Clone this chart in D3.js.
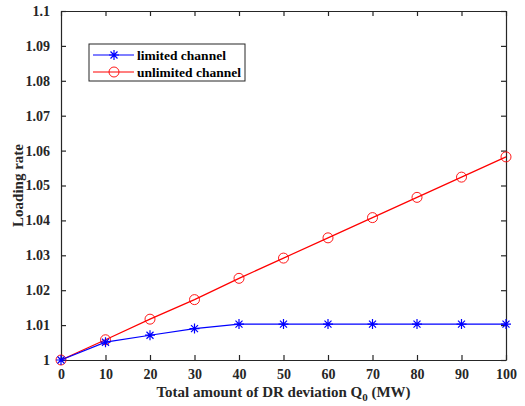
<!DOCTYPE html>
<html>
<head>
<meta charset="utf-8">
<script src="https://cdn.jsdelivr.net/npm/d3@7"></script>
<style>
  body { margin: 0; background: #fff; }
  text { font-family: "Liberation Serif", "Times New Roman", serif; font-weight: bold; }
</style>
</head>
<body>
<div class="chart"></div>
<script>
var w = 525;
var h = 406;
var paddingLeft = 61;
var paddingRight = 19;
var paddingTop = 11;
var paddingBottom = 46;

// data
var deviation = [0, 10, 20, 30, 40, 50, 60, 70, 80, 90, 100];
var limited = [1, 1.0051, 1.0071, 1.0090, 1.0103, 1.0103, 1.0103, 1.0103, 1.0103, 1.0103, 1.0103];
var unlimited = [1, 1.0058, 1.0117, 1.0173, 1.0234, 1.0292, 1.0350, 1.0408, 1.0466, 1.0524, 1.0582];
var seriesNames = ["limited channel", "unlimited channel"];
var xTicks = d3.range(0, 101, 10);
var yTicks = [1, 1.01, 1.02, 1.03, 1.04, 1.05, 1.06, 1.07, 1.08, 1.09, 1.1];

var xScale = d3.scaleLinear()
               .domain([0, 100])
               .range([paddingLeft, w - paddingRight]);
var yScale = d3.scaleLinear()
               .domain([1, 1.1])
               .range([h - paddingBottom, paddingTop]);

var svg = d3.select(".chart").append("svg")
            .attr("width", w)
            .attr("height", h);

var tickLen = 5;
var axisColor = "#262626";

// axes, ticks pointing inward
var xAxis = d3.axisBottom(xScale).tickValues(xTicks).tickSizeInner(-tickLen).tickSizeOuter(0).tickPadding(9);
var yAxis = d3.axisLeft(yScale).tickValues(yTicks).tickSizeInner(-tickLen).tickSizeOuter(0).tickPadding(11)
              .tickFormat(function(d) { return d3.format("")(+d.toFixed(2)); });
var xTop = d3.axisTop(xScale).tickValues(xTicks).tickSizeInner(-tickLen).tickSizeOuter(0).tickFormat("");
var yRight = d3.axisRight(yScale).tickValues(yTicks).tickSizeInner(-tickLen).tickSizeOuter(0).tickFormat("");

function styleAxis(g) {
  g.selectAll("path, line").attr("stroke", axisColor).attr("stroke-width", 1.2);
  g.selectAll("text").attr("fill", axisColor).style("font-size", "14px")
   .style("font-family", "'Liberation Serif', serif").style("font-weight", "bold");
}

svg.append("g").attr("transform", "translate(0," + (h - paddingBottom) + ")").call(xAxis).call(styleAxis);
svg.append("g").attr("transform", "translate(" + paddingLeft + ",0)").call(yAxis).call(styleAxis);
svg.append("g").attr("transform", "translate(0," + paddingTop + ")").call(xTop).call(styleAxis);
svg.append("g").attr("transform", "translate(" + (w - paddingRight) + ",0)").call(yRight).call(styleAxis);

// axis labels
var xLabel = svg.append("text")
   .attr("x", (paddingLeft + w - paddingRight) / 2)
   .attr("y", h - 9)
   .attr("text-anchor", "middle")
   .attr("fill", axisColor)
   .style("font-size", "15px");
xLabel.append("tspan").text("Total amount of DR deviation Q");
xLabel.append("tspan").attr("dy", 4).style("font-size", "11px").text("0");
xLabel.append("tspan").attr("dy", -4).text(" (MW)");

svg.append("text")
   .attr("transform", "translate(23," + ((paddingTop + h - paddingBottom) / 2) + ") rotate(-90)")
   .attr("text-anchor", "middle")
   .attr("fill", axisColor)
   .style("font-size", "15px")
   .text("Loading rate");

// lines
var line = d3.line()
             .x(function(d, i) { return xScale(deviation[i]); })
             .y(function(d) { return yScale(d); });

var plot = svg.append("g");

plot.append("path").datum(unlimited).attr("d", line)
    .attr("fill", "none").attr("stroke", "#ff0000").attr("stroke-width", 1.2);
plot.selectAll("circle.unl").data(unlimited).enter().append("circle")
    .attr("class", "unl")
    .attr("cx", function(d, i) { return xScale(deviation[i]); })
    .attr("cy", function(d) { return yScale(d); })
    .attr("r", 5)
    .attr("fill", "none").attr("stroke", "#ff0000").attr("stroke-width", 0.9);

plot.append("path").datum(limited).attr("d", line)
    .attr("fill", "none").attr("stroke", "#0000ff").attr("stroke-width", 1.2);

var star = function(size) {
  var s = size;
  var d = "M" + (-s) + ",0H" + s + "M0," + (-s) + "V" + s +
          "M" + (-s * 0.7) + "," + (-s * 0.7) + "L" + (s * 0.7) + "," + (s * 0.7) +
          "M" + (-s * 0.7) + "," + (s * 0.7) + "L" + (s * 0.7) + "," + (-s * 0.7);
  return d;
};

plot.selectAll("path.lim").data(limited).enter().append("path")
    .attr("class", "lim")
    .attr("transform", function(d, i) { return "translate(" + xScale(deviation[i]) + "," + yScale(d) + ")"; })
    .attr("d", star(5))
    .attr("fill", "none").attr("stroke", "#0000ff").attr("stroke-width", 1.2);

// legend
var legend = svg.append("g").attr("transform", "translate(89,44)");
legend.append("rect")
      .attr("width", 156).attr("height", 37)
      .attr("fill", "#fff").attr("stroke", axisColor).attr("stroke-width", 1);

var colors = ["#0000ff", "#ff0000"];
seriesNames.forEach(function(name, i) {
  var yy = 11 + i * 17;
  var g = legend.append("g");
  g.append("line").attr("x1", 4).attr("x2", 45).attr("y1", yy).attr("y2", yy)
   .attr("stroke", colors[i]).attr("stroke-width", 1.2);
  if (i == 0) {
    g.append("path").attr("transform", "translate(25," + yy + ")")
     .attr("d", star(5)).attr("fill", "none").attr("stroke", colors[i]).attr("stroke-width", 1.2);
  } else {
    g.append("circle").attr("cx", 25).attr("cy", yy).attr("r", 5)
     .attr("fill", "none").attr("stroke", colors[i]).attr("stroke-width", 0.9);
  }
  g.append("text").attr("x", 48).attr("y", yy + 4.5)
   .attr("fill", "#000").style("font-size", "13.5px").text(name);
});
</script>
</body>
</html>
